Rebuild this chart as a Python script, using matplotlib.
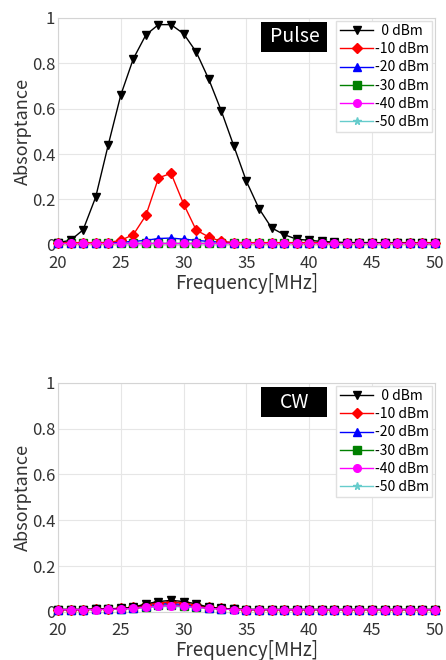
import matplotlib.pyplot as plt
import numpy as np
from matplotlib.patches import Rectangle

plt.rcParams['font.family'] = ['Noto Sans CJK JP', 'DejaVu Sans']

freq = np.arange(20, 51)

levels = ["  0 dBm", "-10 dBm", "-20 dBm", "-30 dBm", "-40 dBm", "-50 dBm"]
colors = ["black", "red", "blue", "green", "magenta", "#66cccc"]
markers = ["v", "D", "^", "s", "o", "*"]

pulse_0 = [0.01, 0.02, 0.066, 0.21, 0.44, 0.66, 0.82, 0.925, 0.97, 0.97, 0.93,
           0.85, 0.73, 0.59, 0.435, 0.28, 0.16, 0.075, 0.045, 0.025, 0.02,
           0.015, 0.012, 0.01, 0.01, 0.01, 0.008, 0.008, 0.007, 0.006, 0.006]
pulse_10 = [0.01, 0.01, 0.01, 0.01, 0.01, 0.02, 0.045, 0.13, 0.295, 0.315, 0.18,
            0.065, 0.035, 0.015, 0.01, 0.01, 0.01, 0.01, 0.01, 0.01, 0.01,
            0.01, 0.01, 0.01, 0.01, 0.01, 0.01, 0.01, 0.01, 0.01, 0.01]
pulse_20 = [0.008, 0.008, 0.008, 0.01, 0.01, 0.012, 0.015, 0.02, 0.028, 0.03, 0.025,
            0.02, 0.015, 0.012, 0.01, 0.01, 0.008, 0.008, 0.008, 0.008, 0.008,
            0.008, 0.008, 0.008, 0.008, 0.008, 0.008, 0.008, 0.008, 0.008, 0.008]
pulse_30 = [0.008] * 31
pulse_40 = [0.008] * 31
pulse_50 = [0.008] * 31

cw_0 = [0.01, 0.01, 0.01, 0.012, 0.013, 0.015, 0.02, 0.035, 0.045, 0.05, 0.045,
        0.035, 0.02, 0.015, 0.012, 0.01, 0.01, 0.01, 0.01, 0.01, 0.01,
        0.01, 0.01, 0.01, 0.01, 0.01, 0.01, 0.01, 0.01, 0.01, 0.01]
cw_10 = [0.01, 0.01, 0.01, 0.012, 0.013, 0.015, 0.02, 0.03, 0.04, 0.042, 0.038,
         0.03, 0.02, 0.015, 0.012, 0.01, 0.01, 0.01, 0.01, 0.01, 0.01,
         0.01, 0.01, 0.01, 0.01, 0.01, 0.01, 0.01, 0.01, 0.01, 0.01]
cw_20 = [0.01, 0.01, 0.01, 0.011, 0.012, 0.014, 0.018, 0.026, 0.034, 0.036, 0.032,
         0.026, 0.018, 0.014, 0.011, 0.01, 0.01, 0.01, 0.01, 0.01, 0.01,
         0.01, 0.01, 0.01, 0.01, 0.01, 0.01, 0.01, 0.01, 0.01, 0.01]
cw_30 = [0.01, 0.01, 0.01, 0.011, 0.012, 0.013, 0.016, 0.022, 0.028, 0.03, 0.027,
         0.022, 0.016, 0.013, 0.011, 0.01, 0.01, 0.01, 0.01, 0.01, 0.01,
         0.01, 0.01, 0.01, 0.01, 0.01, 0.01, 0.01, 0.01, 0.01, 0.01]
cw_40 = [0.009, 0.009, 0.009, 0.01, 0.011, 0.012, 0.015, 0.02, 0.025, 0.027, 0.024,
         0.02, 0.015, 0.012, 0.01, 0.009, 0.009, 0.009, 0.009, 0.009, 0.009,
         0.009, 0.009, 0.009, 0.009, 0.009, 0.009, 0.009, 0.009, 0.009, 0.009]
cw_50 = [0.009, 0.009, 0.009, 0.01, 0.011, 0.012, 0.014, 0.018, 0.022, 0.024, 0.021,
         0.018, 0.014, 0.012, 0.01, 0.009, 0.009, 0.009, 0.009, 0.009, 0.009,
         0.009, 0.009, 0.009, 0.009, 0.009, 0.009, 0.009, 0.009, 0.009, 0.009]

panels = [
    ("Pulse", [pulse_0, pulse_10, pulse_20, pulse_30, pulse_40, pulse_50],
     [0.130, 0.629, 0.845, 0.344]),
    ("CW", [cw_0, cw_10, cw_20, cw_30, cw_40, cw_50],
     [0.130, 0.073, 0.845, 0.347]),
]

# draw order so the magenta baseline sits on top, like the original
zorders = [6, 5, 4, 3, 7, 2]

fig = plt.figure(figsize=(4.46, 6.60), dpi=100)

for name, series, rect in panels:
    ax = fig.add_axes(rect)
    for vals, label, c, m, z in zip(series, levels, colors, markers, zorders):
        ax.plot(freq, vals, color=c, marker=m, markersize=5.5, linewidth=1.0,
                markerfacecolor=c, markeredgecolor=c, label=label, zorder=z,
                clip_on=False)
    ax.set_xlim(20, 50)
    ax.set_ylim(0, 1)
    ax.set_xticks([20, 25, 30, 35, 40, 45, 50])
    ax.set_yticks([0, 0.2, 0.4, 0.6, 0.8, 1])
    ax.set_yticklabels(["0", "0.2", "0.4", "0.6", "0.8", "1"])
    ax.grid(color="#e6e6e6", linewidth=0.8)
    for spine in ax.spines.values():
        spine.set_color("#d4d4d4")
    ax.tick_params(length=0, labelsize=12, colors="#333333")
    ax.tick_params(axis="x", pad=7)
    ax.tick_params(axis="y", pad=2)
    ax.set_xlabel("Frequency[MHz]", fontsize=13.5, labelpad=1, color="#333333")
    ax.set_ylabel("Absorptance", fontsize=13, labelpad=0, color="#333333")
    ax.legend(loc="upper right", fontsize=10, frameon=True, fancybox=False,
              edgecolor="#e0e0e0", handlelength=2.4, handletextpad=0.1,
              labelspacing=0.3, borderpad=0.25, borderaxespad=0.2,
              framealpha=1)
    ax.add_patch(Rectangle((0.54, 0.85), 0.175, 0.132, transform=ax.transAxes,
                           facecolor="black", edgecolor="none", zorder=8))
    ax.text(0.6275, 0.916, name, transform=ax.transAxes, ha="center", va="center",
            color="white", fontsize=14, zorder=9)

fig.savefig("out.png", dpi=100)
